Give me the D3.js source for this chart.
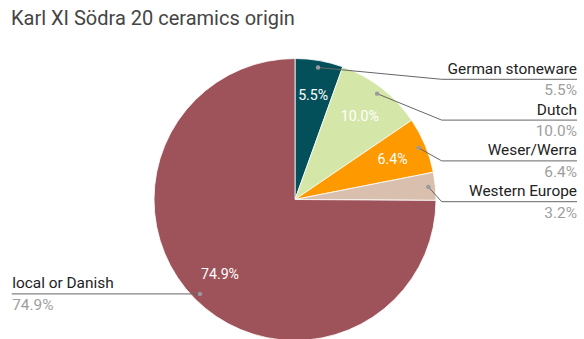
<!DOCTYPE html>
<html>
<head>
<meta charset="utf-8">
<script src="https://cdn.jsdelivr.net/npm/d3@7"></script>
<style>
  html, body { margin: 0; padding: 0; background: #fff; }
  svg { display: block; font-family: Roboto, Arial, sans-serif; }
</style>
</head>
<body>
<svg id="chart" width="584" height="339"></svg>
<script>
// Ceramics origin shares (percent), clockwise from 12 o'clock
const categories = ["German stoneware", "Dutch", "Weser/Werra", "Western Europe", "local or Danish"];
const shares = [5.5, 10.0, 6.4, 3.2, 74.9];
const sliceColors = ["#03505a", "#d5e6a9", "#ff9900", "#d9bfad", "#9e525a"];
const chartTitle = "Karl XI Södra 20 ceramics origin";

const width = 584, height = 339;
const cx = 295, cy = 199.5, R = 141;

const svg = d3.select("#chart");

svg.append("text")
  .attr("x", 11).attr("y", 25)
  .attr("font-size", 20)
  .attr("fill", "#454545")
  .text(chartTitle);

const data = categories.map((c, i) => ({ name: c, value: shares[i], color: sliceColors[i] }));

const pie = d3.pie().value(d => d.value).sort(null);
const arcs = pie(data);

const arc = d3.arc().innerRadius(0).outerRadius(R);
const textArc = d3.arc().innerRadius(R * 0.75).outerRadius(R * 0.75);
const dotArc = d3.arc().innerRadius(R * 0.95).outerRadius(R * 0.95);

const g = svg.append("g").attr("transform", `translate(${cx},${cy})`);

g.selectAll("path.slice")
  .data(arcs)
  .join("path")
  .attr("class", "slice")
  .attr("d", arc)
  .attr("fill", d => d.data.color)
  .attr("stroke", "#fff")
  .attr("stroke-width", 0.8);

// percentage text inside slices (skip the thinnest one)
const fmt = v => v.toFixed(1) + "%";
g.selectAll("text.inner")
  .data(arcs.filter(d => d.data.value >= 5))
  .join("text")
  .attr("class", "inner")
  .attr("transform", d => { const [x, y] = textArc.centroid(d); return `translate(${x},${y})`; })
  .attr("text-anchor", "middle")
  .attr("dy", "0.35em")
  .attr("font-size", 14.2)
  .attr("fill", "#fff")
  .text(d => fmt(d.data.value));

// leader labels
const pitch = 40.8, firstLineY = 79.3 - cy;
const elbowX = 441.7 - cx, rightEdge = 577 - cx, leftEdge = 11.7 - cx;

const items = arcs.map(d => {
  const [x, y] = dotArc.centroid(d);
  const mid = (d.startAngle + d.endAngle) / 2;
  return { d, x, y, right: mid < Math.PI };
});

// stack right-hand labels top-down without overlap
let prev = -Infinity;
items.filter(it => it.right).forEach((it, i) => {
  let ly = i === 0 ? Math.max(it.y, firstLineY) : Math.max(it.y, prev + pitch);
  it.ly = ly; prev = ly;
});
items.filter(it => !it.right).forEach(it => { it.ly = it.y; });

const lab = g.selectAll("g.lab").data(items).join("g").attr("class", "lab");

lab.append("path")
  .attr("d", it => it.right
    ? `M${it.x},${it.y}L${elbowX},${it.ly}L${rightEdge},${it.ly}`
    : `M${it.x},${it.y}L${leftEdge},${it.ly}`)
  .attr("fill", "none")
  .attr("stroke", "#666")
  .attr("stroke-width", 1);

lab.append("circle")
  .attr("cx", it => it.x).attr("cy", it => it.y)
  .attr("r", 2.2)
  .attr("fill", "#9a9a9a");

lab.append("text")
  .attr("x", it => it.right ? rightEdge : leftEdge + 0.5)
  .attr("y", it => it.ly - 5.5)
  .attr("text-anchor", it => it.right ? "end" : "start")
  .attr("font-size", 15.4)
  .attr("fill", "#222")
  .text(it => it.d.data.name);

lab.append("text")
  .attr("x", it => it.right ? rightEdge : leftEdge + 0.5)
  .attr("y", it => it.ly + 16)
  .attr("text-anchor", it => it.right ? "end" : "start")
  .attr("font-size", 15.4)
  .attr("fill", "#9e9e9e")
  .text(it => fmt(it.d.data.value));
</script>
</body>
</html>
